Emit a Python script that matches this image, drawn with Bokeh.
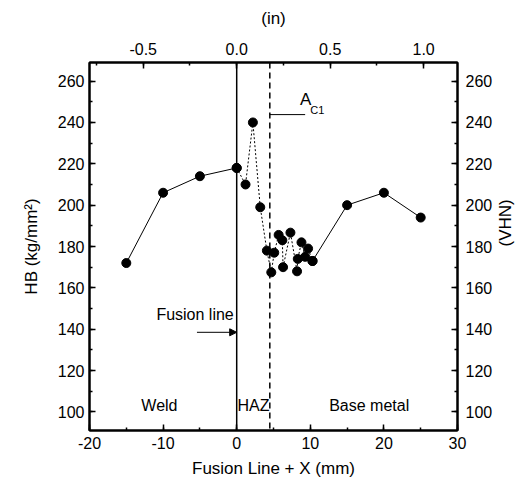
import math
from bokeh.plotting import figure
from bokeh.models import (Range1d, LinearAxis, SingleIntervalTicker, NumeralTickFormatter,
                          Label, Span, Arrow, NormalHead)
from bokeh.embed import file_html
from bokeh.resources import INLINE

# ---- data ----
x_weld = [-15, -10, -5, 0]
hb_weld = [172, 206, 214, 218]

x_haz = [0, 1.2, 2.2, 3.2, 4.1, 4.7, 5.1, 5.7, 6.2, 6.3, 7.3, 8.2, 8.3, 8.8, 9.3, 9.7, 10.3]
hb_haz = [218, 210, 240, 199, 178, 167.5, 177, 185.6, 183, 170, 186.7, 168, 174, 182, 175, 179, 173]

x_base = [10.3, 15, 20, 25]
hb_base = [173, 200, 206, 194]

fusion_x = 0
ac1_x = 4.5
mm_per_in = 25.4

FONT = "Liberation Sans"
FS = "16px"
FSL = "17px"

p = figure(width=527, height=484, output_backend="svg", toolbar_location=None,
           x_range=Range1d(-20, 30), y_range=Range1d(91, 269),
           min_border_left=89, min_border_right=68, min_border_top=62, min_border_bottom=54,
           x_axis_location=None, y_axis_location=None)
p.xgrid.visible = False
p.ygrid.visible = False
p.outline_line_color = "black"
p.outline_line_width = 2
p.background_fill_color = "white"
p.border_fill_color = "white"

def style(ax):
    ax.axis_line_width = 2
    ax.axis_line_color = "black"
    ax.major_tick_in = 6
    ax.major_tick_out = 0
    ax.minor_tick_in = 3
    ax.minor_tick_out = 0
    ax.major_tick_line_width = 1.5
    ax.minor_tick_line_width = 1.5
    ax.major_label_text_font = FONT
    ax.major_label_text_font_size = FS
    ax.major_label_text_color = "black"
    ax.axis_label_text_font = FONT
    ax.axis_label_text_font_size = FSL
    ax.axis_label_text_font_style = "normal"
    ax.axis_label_text_color = "black"

xb = LinearAxis(ticker=SingleIntervalTicker(interval=10, num_minor_ticks=2),
                formatter=NumeralTickFormatter(format="0"),
                axis_label="Fusion Line + X (mm)")
style(xb)
xb.major_label_standoff = 6
xb.axis_label_standoff = 7
p.add_layout(xb, "below")

p.extra_x_ranges = {"inch": Range1d(-20 / mm_per_in, 30 / mm_per_in)}
xt = LinearAxis(x_range_name="inch", ticker=SingleIntervalTicker(interval=0.5, num_minor_ticks=2),
                formatter=NumeralTickFormatter(format="0.0"), axis_label="(in)")
style(xt)
xt.major_label_standoff = 8
xt.axis_label_standoff = 12
p.add_layout(xt, "above")

yl = LinearAxis(ticker=SingleIntervalTicker(interval=20, num_minor_ticks=2),
                formatter=NumeralTickFormatter(format="0"),
                axis_label="HB (kg/mm²)")
style(yl)
yl.major_label_standoff = 5
yl.axis_label_standoff = 14
p.add_layout(yl, "left")

yr = LinearAxis(ticker=SingleIntervalTicker(interval=20, num_minor_ticks=2),
                formatter=NumeralTickFormatter(format="0"),
                axis_label="(VHN)")
style(yr)
yr.major_label_standoff = 8
yr.axis_label_standoff = 10
yr.axis_label_orientation = math.pi / 2
p.add_layout(yr, "right")

# vertical lines
p.add_layout(Span(location=fusion_x, dimension="height", line_color="black", line_width=1.5))
p.add_layout(Span(location=ac1_x, dimension="height", line_color="black", line_width=1.5,
                  line_dash="6 4"))

# data lines
p.line(x_weld, hb_weld, line_color="black", line_width=1)
p.line(x_haz, hb_haz, line_color="black", line_width=1, line_dash="2 2")
p.line(x_base, hb_base, line_color="black", line_width=1)

p.scatter(x_weld + x_haz + x_base, hb_weld + hb_haz + hb_base, size=9,
          fill_color="black", line_color="black")

# annotations
def lab(x, y, t, size=FS, **kw):
    p.add_layout(Label(x=x, y=y, text=t, text_font=FONT, text_font_size=size,
                       text_color="black", **kw))

lab(-10.5, 103, "Weld", text_align="center", text_baseline="middle")
lab(0.1, 103, "HAZ", text_align="left", text_baseline="middle")
lab(18, 103, "Base metal", text_align="center", text_baseline="middle")

lab(-0.4, 143, "Fusion line", text_align="right", text_baseline="bottom")
p.add_layout(Arrow(end=NormalHead(size=7, fill_color="black", line_color="black"),
                   x_start=-5.4, y_start=138.5, x_end=0, y_end=138.5,
                   line_color="black", line_width=1))

lab(8.6, 246.5, "A", size="17px", text_align="left", text_baseline="bottom")
lab(10.0, 246, "C1", size="11px", text_align="left", text_baseline="middle")
p.segment(x0=[ac1_x], y0=[243.8], x1=[9.3], y1=[243.8], line_color="black", line_width=1)

open("out.html", "w").write(file_html(p, INLINE))
